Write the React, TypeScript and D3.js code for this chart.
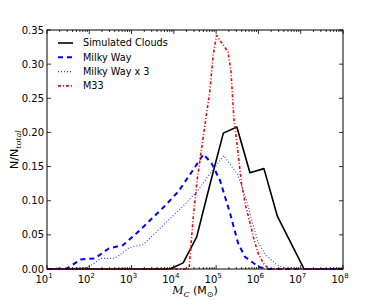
import React, { useEffect, useRef } from 'react';
import * as d3 from 'd3';

// log10(M_C) positions and N/N_total values
const cloudLogM = [1.0, 3.6, 3.91, 4.22, 4.54, 4.85, 5.17, 5.49, 5.80, 6.13, 6.45, 6.77, 7.08, 8.0];
const cloudFrac = [0, 0, 0, 0.009, 0.047, 0.123, 0.199, 0.208, 0.141, 0.147, 0.077, 0.038, 0, 0];

const mwLogM = [1.0, 1.15, 1.48, 1.80, 2.13, 2.46, 2.80, 3.13, 3.45, 3.78, 4.10, 4.40, 4.70, 4.89, 5.09, 5.33, 5.52, 5.68, 6.0, 6.19, 8.0];
const mwFrac = [0, 0, 0.001, 0.014, 0.0155, 0.030, 0.035, 0.053, 0.072, 0.092, 0.113, 0.140, 0.168, 0.155, 0.130, 0.0815, 0.0376, 0.018, 0.0034, 0, 0];

const mw3LogM = [1.0, 1.47, 1.63, 1.96, 2.28, 2.61, 2.94, 3.28, 3.60, 3.93, 4.25, 4.57, 4.88, 5.18, 5.51, 5.70, 5.84, 6.0, 6.17, 6.43, 6.70, 8.0];
const mw3Frac = [0, 0, 0.001, 0.002, 0.0155, 0.0157, 0.031, 0.036, 0.055, 0.075, 0.094, 0.115, 0.142, 0.166, 0.138, 0.105, 0.072, 0.038, 0.021, 0.006, 0, 0];

const m33LogM = [1.0, 4.36, 4.45, 4.55, 4.70, 4.85, 4.93, 5.01, 5.28, 5.35, 5.42, 5.50, 5.60, 5.70, 5.80, 5.90, 6.00, 6.12, 6.25, 8.0];
const m33Frac = [0, 0, 0.07, 0.13, 0.196, 0.26, 0.313, 0.342, 0.318, 0.29, 0.22, 0.18, 0.125, 0.092, 0.068, 0.042, 0.022, 0.008, 0, 0];

const seriesNames = ['Simulated Clouds', 'Milky Way', 'Milky Way x 3', 'M33'];
const yTicks = [0, 0.05, 0.1, 0.15, 0.2, 0.25, 0.3, 0.35];
const xDecades = [1, 2, 3, 4, 5, 6, 7, 8];

const FONT = 'DejaVu Sans, sans-serif';

const App = () => {
  const svgRef = useRef<SVGSVGElement>(null);

  useEffect(() => {
    const width = 382;
    const height = 300;
    const m = { top: 30, right: 39, bottom: 31, left: 47 };

    const svg = d3.select(svgRef.current)
      .attr('width', width)
      .attr('height', height);
    svg.selectAll('*').remove();

    const x = d3.scaleLog().domain([1e1, 1e8]).range([m.left, width - m.right]);
    const y = d3.scaleLinear().domain([0, 0.35]).range([height - m.bottom, m.top]);

    const series = [
      { lg: cloudLogM, v: cloudFrac, color: '#000000', w: 1.6, dash: null },
      { lg: mwLogM, v: mwFrac, color: '#0000ff', w: 2, dash: '5,4' },
      { lg: mw3LogM, v: mw3Frac, color: '#3333ff', w: 1.1, dash: '1,2' },
      { lg: m33LogM, v: m33Frac, color: '#ff0000', w: 1.6, dash: '3,2,1,2' },
    ];

    const line = d3.line<[number, number]>()
      .x(d => x(Math.pow(10, d[0])))
      .y(d => y(d[1]));

    const plot = svg.append('g');
    series.forEach(s => {
      const pts: [number, number][] = s.lg.map((l, i) => [l, s.v[i]]);
      plot.append('path')
        .attr('d', line(pts))
        .attr('fill', 'none')
        .attr('stroke', s.color)
        .attr('stroke-width', s.w)
        .attr('stroke-dasharray', s.dash)
        .attr('stroke-linejoin', 'round');
    });

    // frame
    const [x0, x1] = x.range();
    const [y0, y1] = y.range();
    svg.append('rect')
      .attr('x', x0).attr('y', y1)
      .attr('width', x1 - x0).attr('height', y0 - y1)
      .attr('fill', 'none').attr('stroke', '#000').attr('stroke-width', 1);

    // y ticks, inward on both sides
    const ax = svg.append('g').attr('stroke', '#000').attr('stroke-width', 0.8);
    yTicks.forEach(t => {
      ax.append('line').attr('x1', x0).attr('x2', x0 + 4).attr('y1', y(t)).attr('y2', y(t));
      ax.append('line').attr('x1', x1).attr('x2', x1 - 4).attr('y1', y(t)).attr('y2', y(t));
    });
    svg.append('g').selectAll('text')
      .data(yTicks)
      .join('text')
      .attr('x', x0 - 3)
      .attr('y', d => y(d))
      .attr('dy', '0.35em')
      .attr('text-anchor', 'end')
      .attr('font-family', FONT)
      .attr('font-size', 10)
      .text(d => d.toFixed(2));

    // x ticks: major decades + minor 2..9
    xDecades.forEach(e => {
      const v = Math.pow(10, e);
      ax.append('line').attr('x1', x(v)).attr('x2', x(v)).attr('y1', y0).attr('y2', y0 - 4);
      ax.append('line').attr('x1', x(v)).attr('x2', x(v)).attr('y1', y1).attr('y2', y1 + 4);
      if (e < 8) {
        for (let k = 2; k < 10; k++) {
          const mv = k * v;
          ax.append('line').attr('x1', x(mv)).attr('x2', x(mv)).attr('y1', y0).attr('y2', y0 - 2);
          ax.append('line').attr('x1', x(mv)).attr('x2', x(mv)).attr('y1', y1).attr('y2', y1 + 2);
        }
      }
    });
    const xl = svg.append('g').selectAll('text')
      .data(xDecades)
      .join('text')
      .attr('x', d => x(Math.pow(10, d)) - 3)
      .attr('y', y0 + 14)
      .attr('text-anchor', 'middle')
      .attr('font-family', FONT)
      .attr('font-size', 10);
    xl.append('tspan').text('10');
    xl.append('tspan').attr('dy', -5).attr('font-size', 7).text(d => String(d));

    // axis labels
    const xlab = svg.append('text')
      .attr('x', (x0 + x1) / 2)
      .attr('y', 294)
      .attr('text-anchor', 'middle')
      .attr('font-family', FONT)
      .attr('font-size', 11);
    xlab.append('tspan').attr('font-family', 'DejaVu Serif, serif').attr('font-style', 'italic').text('M');
    xlab.append('tspan').attr('font-family', 'DejaVu Serif, serif').attr('font-style', 'italic')
      .attr('font-size', 8).attr('dy', 3).text('C');
    xlab.append('tspan').attr('dy', -3).text(' (M');
    xlab.append('tspan').attr('font-size', 8).attr('dy', 3).text('⊙');
    xlab.append('tspan').attr('dy', -3).text(')');

    const ylab = svg.append('text')
      .attr('transform', `translate(18,${(y0 + y1) / 2}) rotate(-90)`)
      .attr('text-anchor', 'middle')
      .attr('font-family', FONT)
      .attr('font-size', 11);
    ylab.append('tspan').text('N/N');
    ylab.append('tspan').attr('font-family', 'DejaVu Serif, serif').attr('font-style', 'italic')
      .attr('font-size', 8).attr('dy', 3).text('total');

    // legend (no frame)
    const lg = svg.append('g')
      .selectAll('g')
      .data(series)
      .join('g')
      .attr('transform', (d, i) => `translate(58,${43 + i * 14.3})`);
    lg.append('line')
      .attr('x1', 0).attr('x2', 15).attr('y1', 0).attr('y2', 0)
      .attr('stroke', d => d.color)
      .attr('stroke-width', d => d.w)
      .attr('stroke-dasharray', d => d.dash);
    lg.append('text')
      .attr('x', 25)
      .attr('dy', '0.35em')
      .attr('font-family', FONT)
      .attr('font-size', 9.7)
      .text((d, i) => seriesNames[i]);
  }, []);

  return (
    <svg ref={svgRef} style={{ position: 'absolute', left: 0, top: 0 }}></svg>
  );
};

export default App;
